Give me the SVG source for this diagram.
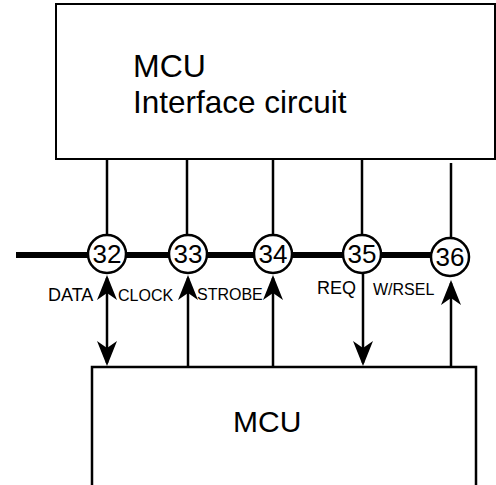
<svg xmlns="http://www.w3.org/2000/svg" width="496" height="485" viewBox="0 0 496 485">
<defs>
<style>
.box{fill:#fff;stroke:#000;stroke-width:2.5}
.wire{stroke:#000;stroke-width:2.5;fill:none}
.bus{stroke:#000;stroke-width:6}
.pin{fill:#fff;stroke:#000;stroke-width:2.5}
.big{font-family:"Liberation Sans",Arial,sans-serif;font-size:32px;fill:#000}
.num{font-family:"Liberation Sans",Arial,sans-serif;font-size:26px;fill:#000;text-anchor:middle}
.lbl{font-family:"Liberation Sans",Arial,sans-serif;font-size:16px;fill:#000}
</style>
<marker id="ah" markerUnits="userSpaceOnUse" markerWidth="26" markerHeight="22" viewBox="0 0 26 22" refX="22" refY="10" orient="auto-start-reverse">
<path d="M0,0 L25,10 L0,20 L7,10 Z" fill="#000"/>
</marker>
</defs>
<rect width="496" height="485" fill="#fff"/>
<g id="interface-circuit">
<rect class="box" x="56" y="4" width="439" height="155" style="stroke-width:2"/>
<text class="big" x="133" y="77">MCU</text>
<text class="big" x="133" y="113" style="font-size:31.5px">Interface circuit</text>
</g>
<g id="mcu">
<rect class="box" x="92" y="367" width="384" height="140"/>
<text class="big" x="233" y="432" style="font-size:30px">MCU</text>
</g>
<g id="connectors">
<line class="bus" x1="16" y1="255" x2="450" y2="255"/>
<line class="wire" x1="107" y1="159" x2="107" y2="236"/>
<line class="wire" x1="187" y1="159" x2="187" y2="236"/>
<line class="wire" x1="273" y1="159" x2="273" y2="236"/>
<line class="wire" x1="362" y1="159" x2="362" y2="236"/>
<line class="wire" x1="451" y1="163" x2="451" y2="239"/>
<line class="wire" x1="107" y1="278" x2="107" y2="363" marker-start="url(#ah)" marker-end="url(#ah)"/>
<line class="wire" x1="188" y1="367" x2="188" y2="278" marker-end="url(#ah)"/>
<line class="wire" x1="273" y1="367" x2="273" y2="278" marker-end="url(#ah)"/>
<line class="wire" x1="363" y1="273" x2="363" y2="363" marker-end="url(#ah)"/>
<line class="wire" x1="451" y1="367" x2="451" y2="283" marker-end="url(#ah)"/>
<text class="lbl" x="48" y="301" style="font-size:18px">DATA</text>
<text class="lbl" x="118" y="301">CLOCK</text>
<text class="lbl" x="197" y="300">STROBE</text>
<text class="lbl" x="317" y="294" style="font-size:18px">REQ</text>
<text class="lbl" x="373" y="295">W/RSEL</text>
</g>
<g id="pin32"><circle class="pin" cx="107" cy="254" r="19"/><text class="num" x="107" y="263">32</text></g>
<g id="pin33"><circle class="pin" cx="188" cy="254" r="19"/><text class="num" x="188" y="263">33</text></g>
<g id="pin34"><circle class="pin" cx="273" cy="254" r="19"/><text class="num" x="273" y="263">34</text></g>
<g id="pin35"><circle class="pin" cx="362" cy="254" r="19"/><text class="num" x="362" y="263">35</text></g>
<g id="pin36"><circle class="pin" cx="450" cy="257" r="19"/><text class="num" x="450" y="266">36</text></g>
</svg>
